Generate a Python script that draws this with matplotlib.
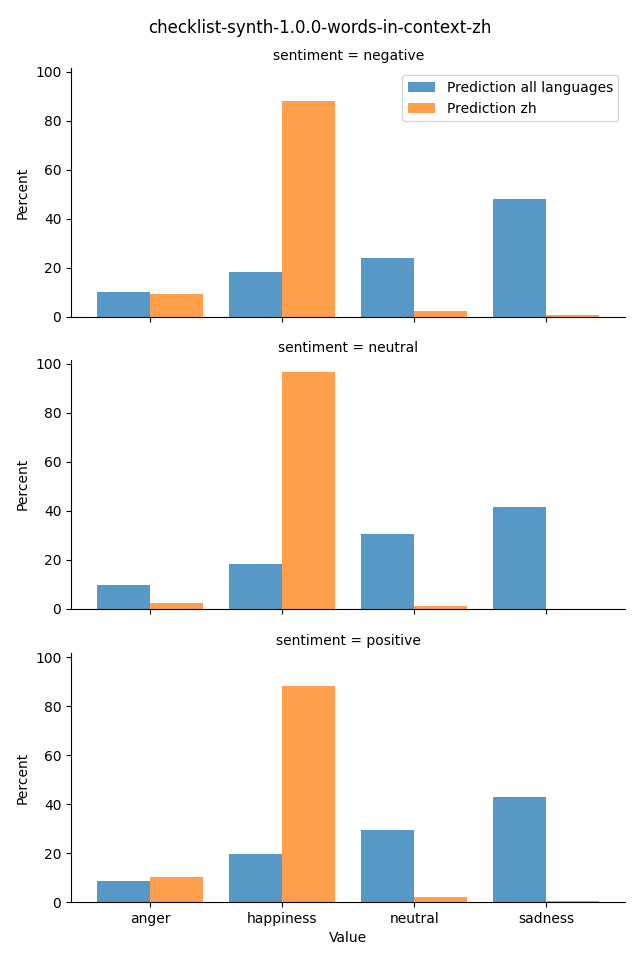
import numpy as np
import matplotlib
matplotlib.use("Agg")
import matplotlib.pyplot as plt

# values (percent)
emotions = ["anger", "happiness", "neutral", "sadness"]
sentiments = ["negative", "neutral", "positive"]
pred_all = {
    "negative": [10.1, 18.3, 24.0, 48.0],
    "neutral": [9.8, 18.4, 30.6, 41.6],
    "positive": [8.6, 19.5, 29.3, 43.0],
}
pred_zh = {
    "negative": [9.3, 88.0, 2.3, 0.8],
    "neutral": [2.4, 96.6, 0.9, 0.0],
    "positive": [10.1, 88.0, 2.0, 0.4],
}

fig = plt.figure(figsize=(6.4, 9.6), dpi=100)
left, width, height = 0.111, 0.866, 0.259
bottoms = [0.670, 0.366, 0.0604]

x = np.arange(len(emotions))
w = 0.4
axes = []
for i, s in enumerate(sentiments):
    ax = fig.add_axes([left, bottoms[i], width, height])
    ax.bar(x - w / 2, pred_all[s], width=w, color="tab:blue", alpha=0.75,
           label="Prediction all languages")
    ax.bar(x + w / 2, pred_zh[s], width=w, color="tab:orange", alpha=0.75,
           label="Prediction zh")
    ax.set_xlim(-0.6, 3.6)
    ax.set_ylim(0, 101.5)
    ax.set_yticks([0, 20, 40, 60, 80, 100])
    ax.set_xticks(x)
    ax.set_title(f"sentiment = {s}", fontsize=10)
    ax.set_ylabel("Percent")
    ax.spines["top"].set_visible(False)
    ax.spines["right"].set_visible(False)
    if i < 2:
        ax.set_xticklabels([])
    else:
        ax.set_xticklabels(emotions)
        ax.set_xlabel("Value")
    axes.append(ax)

axes[0].legend(loc="upper right")
fig.suptitle("checklist-synth-1.0.0-words-in-context-zh", y=0.98, fontsize=12)

fig.savefig("out.png", dpi=100)
